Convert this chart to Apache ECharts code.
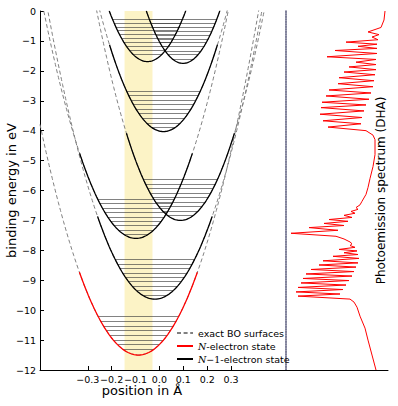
<!DOCTYPE html>
<html><head><meta charset="utf-8">
<script src="https://cdn.jsdelivr.net/npm/echarts@6/dist/echarts.min.js"></script>
<style>html,body{margin:0;padding:0;background:#fff}#c{width:398px;height:406px}</style>
</head><body><div id="c"></div>
<script>
// ---------- data ----------
// N-electron state (red parabola): centre (Å), minimum (eV), curvature (eV/Å^2), half extent (Å)
const nCenter = -0.088, nMin = -11.5, nCurv = 45.4, nHalf = 0.247;
const levelsN = [-10.22, -10.37, -10.53, -10.68, -10.84, -10.99, -11.15, -11.30];

// N-1 electron states (black parabolas) A..F
const ionCenter = [-0.050, 0.099, 0.017, -0.098, 0.088, -0.019];
const ionMin    = [-1.69, -1.75, -4.03, -7.60, -7.00, -9.63];
const ionCurv   = [66, 74, 56.8, 51, 57, 48];
const ionHalf   = [0.25, 0.25, 0.226, 0.236, 0.226, 0.24];
const levelsA = [-1.44, -1.31, -1.18, -1.05, -0.92, -0.79, -0.66, -0.53, -0.40, -0.27];
const levelsB = [-1.60, -1.46, -1.33, -1.19, -1.06, -0.93, -0.80, -0.67, -0.54, -0.41, -0.27];
const levelsC = [-2.67, -2.82, -2.97, -3.12, -3.27, -3.42, -3.58, -3.74, -3.89];
const levelsD = [-6.28, -6.43, -6.58, -6.72, -6.88, -7.02, -7.17, -7.32, -7.47];
const levelsE = [-5.63, -5.78, -5.94, -6.08, -6.24, -6.39, -6.54, -6.69, -6.83];
const levelsF = [-8.30, -8.45, -8.60, -8.75, -8.90, -9.05, -9.20, -9.35, -9.50];
const ionLevels = [levelsA, levelsB, levelsC, levelsD, levelsE, levelsF];

// highlighted position window (Å)
const bandX = [-0.146, -0.029];

// axis ticks
const xTicks = [-0.3, -0.2, -0.1, 0, 0.1, 0.2, 0.3];
const yTicks = [0, -1, -2, -3, -4, -5, -6, -7, -8, -9, -10, -11, -12];

// photoemission spectrum (DHA): binding energy (eV) and intensity (arb.)
const specEnergy = [0, -0.3, -0.55, -0.70, -0.79, -0.87, -0.96, -1.04, -1.11, -1.18, -1.25, -1.32, -1.42, -1.53, -1.62,
  -1.71, -1.79, -1.87, -1.96, -2.04, -2.13, -2.23, -2.33, -2.43, -2.53, -2.64, -2.74, -2.84, -2.95, -3.05, -3.14,
  -3.23, -3.34, -3.45, -3.56, -3.67, -3.77, -3.88, -4.0, -4.15, -4.3, -4.8, -5.2, -5.6, -5.9, -6.13, -6.36, -6.48,
  -6.57, -6.63, -6.70, -6.76, -6.83, -6.90, -6.97, -7.03, -7.10, -7.17, -7.24, -7.33, -7.43, -7.53, -7.62, -7.72,
  -7.78, -7.84, -7.90, -7.97, -8.02, -8.08, -8.14, -8.20, -8.27, -8.35, -8.42, -8.49, -8.56, -8.64, -8.71, -8.79,
  -8.86, -8.94, -9.01, -9.09, -9.16, -9.24, -9.31, -9.39, -9.46, -9.53, -9.63, -9.73, -9.9, -10.2, -10.6, -11.0, -11.5, -12];
const specIntensity = [3, 4, 7, 20, 9, 16, 10, 42, 11, 30, 11, 53, 11, 61, 12,
  32, 12, 39, 12, 44, 13, 49, 14, 50, 15, 59, 17, 62, 19, 66, 22,
  67, 24, 68, 26, 65, 27, 60, 22, 15, 13, 13, 15, 18, 20, 22, 26, 28,
  32, 30, 37, 33, 44, 36, 59, 40, 64, 44, 79, 50, 97, 52, 44, 38,
  36, 38, 33, 49, 31, 44, 30, 55, 29, 65, 30, 69, 32, 77, 34, 82,
  36, 85, 39, 87, 42, 90, 45, 92, 48, 90, 38, 34, 31, 28, 23, 20, 16, 12];

// ---------- build ----------
const FONT = 'DejaVu Sans';
const X0 = -0.5, X1 = 0.53;
function pe(c, m, k, x) { return m + k * (x - c) * (x - c); }
function curve(c, m, k, a, b, n) {
  const pts = [];
  for (let i = 0; i <= n; i++) { const x = a + (b - a) * i / n; pts.push([x, pe(c, m, k, x)]); }
  return pts;
}
function levelSegs(c, m, k, levels) {
  return levels.map(E => { const dx = Math.sqrt((E - m) / k); return { coords: [[c - dx, E], [c + dx, E]] }; });
}
const dashStyle = { color: '#808080', width: 1, type: [4, 2.6] };
const series = [];
// band carrier
series.push({ type: 'line', xAxisIndex: 0, yAxisIndex: 0, data: [], z: 0, silent: true,
  markArea: { silent: true, itemStyle: { color: '#fcf3c6' }, data: [[{ xAxis: bandX[0] }, { xAxis: bandX[1] }]] } });
// dashed BO surfaces
const allC = [nCenter].concat(ionCenter), allM = [nMin].concat(ionMin), allK = [nCurv].concat(ionCurv);
for (let i = 0; i < allC.length; i++) {
  series.push({ name: 'exact BO surfaces', type: 'line', xAxisIndex: 0, yAxisIndex: 0, showSymbol: false, symbol: 'none',
    clip: true, z: 2, lineStyle: dashStyle, itemStyle: { color: '#808080' },
    data: curve(allC[i], allM[i], allK[i], X0, X1, 240) });
}
// level lines
let segs = levelSegs(nCenter, nMin, nCurv, levelsN);
for (let i = 0; i < ionCenter.length; i++) segs = segs.concat(levelSegs(ionCenter[i], ionMin[i], ionCurv[i], ionLevels[i]));
series.push({ type: 'lines', coordinateSystem: 'cartesian2d', xAxisIndex: 0, yAxisIndex: 0, z: 3, silent: true,
  lineStyle: { color: '#3a3a3a', width: 0.8, opacity: 0.8 }, data: segs });
// N-1 states
for (let i = 0; i < ionCenter.length; i++) {
  const h = Math.min(ionHalf[i], Math.sqrt(-ionMin[i] / ionCurv[i]));
  series.push({ name: 'N\u22121-electron state', type: 'line', xAxisIndex: 0, yAxisIndex: 0, showSymbol: false, symbol: 'none',
    clip: true, z: 4, lineStyle: { color: '#000', width: 1.3 }, itemStyle: { color: '#000' },
    data: curve(ionCenter[i], ionMin[i], ionCurv[i], ionCenter[i] - h, ionCenter[i] + h, 80) });
}
// N state
series.push({ name: 'N-electron state', type: 'line', xAxisIndex: 0, yAxisIndex: 0, showSymbol: false, symbol: 'none',
  z: 4, lineStyle: { color: '#ff0000', width: 1.3 }, itemStyle: { color: '#ff0000' },
  data: curve(nCenter, nMin, nCurv, nCenter - nHalf, nCenter + nHalf, 80) });
// spectrum
series.push({ type: 'line', xAxisIndex: 1, yAxisIndex: 1, showSymbol: false, symbol: 'none', z: 4,
  lineStyle: { color: '#ff0000', width: 1 }, data: specEnergy.map((e, i) => [specIntensity[i], e]) });

const minus = v => (v < 0 ? '\u2212' : '');
const option = {
  animation: false,
  backgroundColor: '#fff',
  textStyle: { fontFamily: FONT },
  grid: [
    { left: 40, top: 11, width: 246, height: 359, containLabel: false, outerBoundsMode: 'none' },
    { left: 286, top: 11, width: 102, height: 359, containLabel: false, outerBoundsMode: 'none' }
  ],
  xAxis: [
    { gridIndex: 0, type: 'value', min: X0, max: X1, splitLine: { show: false },
      axisLine: { onZero: false, lineStyle: { color: '#000', width: 1 } },
      axisTick: { inside: true, length: 4, customValues: xTicks, lineStyle: { color: '#000' } },
      axisLabel: { customValues: xTicks, margin: 4, color: '#000', fontSize: 9.5, fontFamily: FONT, hideOverlap: false,
        formatter: v => minus(v) + Math.abs(v).toFixed(1) },
      name: 'position in \u00c5', nameLocation: 'middle', nameGap: 14, nameMoveOverlap: false,
      nameTextStyle: { fontSize: 13, color: '#000', fontFamily: FONT, padding: [0, 42, 0, 0] } },
    { gridIndex: 1, type: 'value', inverse: true, min: 0, max: 102, splitLine: { show: false },
      axisLine: { onZero: false, lineStyle: { color: '#000', width: 1 } }, axisTick: { show: false }, axisLabel: { show: false } }
  ],
  yAxis: [
    { gridIndex: 0, type: 'value', min: -12, max: 0, interval: 1, splitLine: { show: false },
      axisLine: { onZero: false, lineStyle: { color: '#000', width: 1 } },
      axisTick: { inside: true, length: 4, lineStyle: { color: '#000' } },
      axisLabel: { margin: 4, color: '#000', fontSize: 9.5, fontFamily: FONT, formatter: v => minus(v) + Math.abs(v) },
      name: 'binding energy in eV', nameLocation: 'middle', nameGap: 22, nameMoveOverlap: false,
      nameTextStyle: { fontSize: 13, color: '#000', fontFamily: FONT } },
    { gridIndex: 1, type: 'value', position: 'left', min: -12, max: 0, splitLine: { show: false },
      axisLine: { onZero: false, lineStyle: { color: '#5e6080', width: 1.6, type: [1.5, 1] } }, axisTick: { show: false }, axisLabel: { show: false },
      name: 'Photoemission spectrum (DHA)', nameLocation: 'middle', nameGap: -101, nameMoveOverlap: false,
      nameTextStyle: { fontSize: 12, color: '#000', fontFamily: FONT } }
  ],
  legend: {
    data: ['exact BO surfaces', 'N-electron state', 'N\u22121-electron state'],
    orient: 'vertical', left: 171, top: 323, itemWidth: 16, itemHeight: 8, itemGap: 3, padding: 5,
    selectedMode: false,
    itemStyle: { opacity: 0 },
    textStyle: { fontFamily: FONT, fontSize: 9.5, color: '#000',
      rich: { i: { fontFamily: 'DejaVu Serif', fontStyle: 'italic', fontSize: 9.5, color: '#000' },
              m: { fontFamily: 'DejaVu Serif', fontSize: 9.5, color: '#000' } } },
    formatter: name => {
      if (name === 'N-electron state') return '{i|N}-electron state';
      if (name === 'N\u22121-electron state') return '{i|N}{m|\u22121}-electron state';
      return name;
    }
  },
  series: series
};
const chart = echarts.init(document.getElementById('c'), null, { renderer: 'svg' });
chart.setOption(option);
</script>
</body></html>
